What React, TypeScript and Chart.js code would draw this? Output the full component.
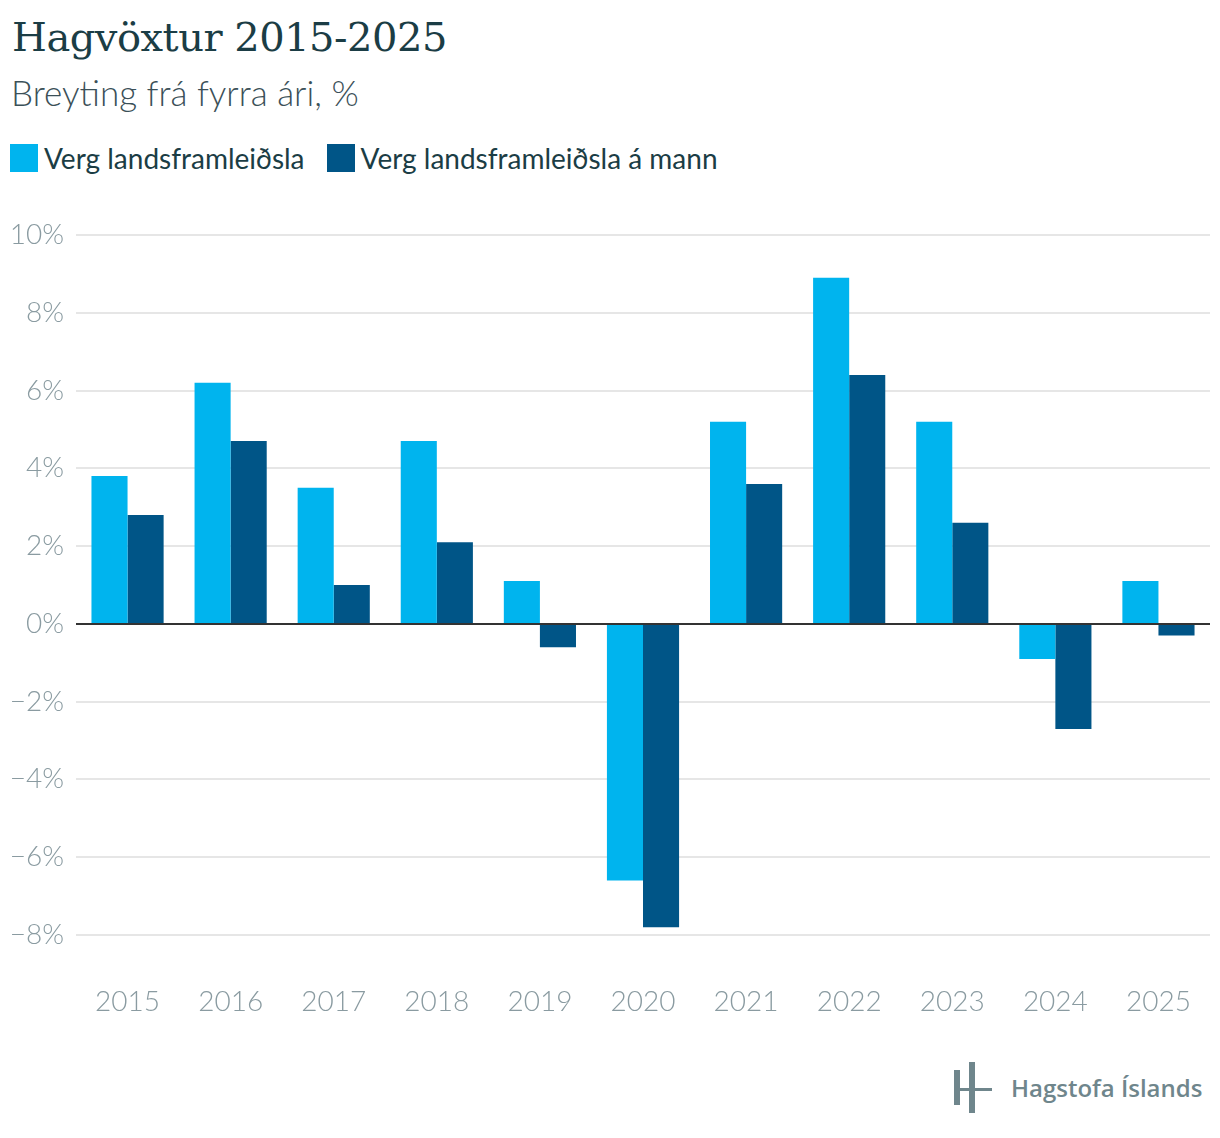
import React, { useEffect, useRef } from "react";
import { Chart, registerables } from "chart.js";

Chart.register(...registerables);

// gögn
const years = ["2015", "2016", "2017", "2018", "2019", "2020", "2021", "2022", "2023", "2024", "2025"];
const vlf = [3.8, 6.2, 3.5, 4.7, 1.1, -6.6, 5.2, 8.9, 5.2, -0.9, 1.1];
const vlfPerMann = [2.8, 4.7, 1.0, 2.1, -0.6, -7.8, 3.6, 6.4, 2.6, -2.7, -0.3];
const seriesNames = ["Verg landsframleiðsla", "Verg landsframleiðsla á mann"];
const yTicks = [-8, -6, -4, -2, 0, 2, 4, 6, 8, 10];

const LIGHT = "#00b4ee";
const DARK = "#005587";
const TEXT = "#1b3d45";
const AXIS = "#8a9ba1";

const zeroLine = {
  id: "zeroLine",
  afterDatasetsDraw(chart: any) {
    const { ctx, chartArea, scales } = chart;
    const y = Math.round(scales.y.getPixelForValue(0));
    ctx.save();
    ctx.strokeStyle = "#333333";
    ctx.lineWidth = 2;
    ctx.beginPath();
    ctx.moveTo(chartArea.left, y);
    ctx.lineTo(chartArea.right, y);
    ctx.stroke();
    ctx.restore();
  },
};

const GrowthChart = () => {
  const chartRef = useRef<HTMLCanvasElement>(null);
  const chartInstance = useRef<Chart | null>(null);

  useEffect(() => {
    if (!chartRef.current) return;
    const ctx = chartRef.current.getContext("2d");
    if (!ctx) return;
    if (chartInstance.current) chartInstance.current.destroy();

    chartInstance.current = new Chart(ctx, {
      type: "bar",
      data: {
        labels: years,
        datasets: [
          { label: seriesNames[0], data: vlf, backgroundColor: LIGHT, categoryPercentage: 0.7, barPercentage: 1 },
          { label: seriesNames[1], data: vlfPerMann, backgroundColor: DARK, categoryPercentage: 0.7, barPercentage: 1 },
        ],
      },
      options: {
        animation: false,
        responsive: false,
        maintainAspectRatio: false,
        layout: { padding: { top: 35, right: 10, left: 0, bottom: 0 } },
        plugins: {
          legend: { display: false },
          tooltip: { enabled: false },
        },
        scales: {
          x: {
            // ósýnileg merki notuð sem bil niður að ártölum
            grid: { display: false, drawTicks: true, tickLength: 50 },
            border: { display: false },
            ticks: {
              color: AXIS,
              padding: 0,
              font: { family: "Lato", size: 28, weight: 300 },
            },
            afterFit: (scale: any) => {
              scale.height = 105;
            },
          },
          y: {
            min: -8,
            max: 10,
            grid: {
              drawTicks: false,
              lineWidth: 2,
              color: (c: any) => (c.tick && c.tick.value === 0 ? "rgba(0,0,0,0)" : "#e6e6e6"),
            },
            border: { display: false },
            afterBuildTicks: (scale: any) => {
              scale.ticks = yTicks.map((v) => ({ value: v }));
            },
            afterFit: (scale: any) => {
              scale.width = 76;
            },
            ticks: {
              color: AXIS,
              padding: 12,
              font: { family: "Lato", size: 28, weight: 300 },
              callback: (v: any) => (Number(v) < 0 ? "\u2212" + Math.abs(Number(v)) : String(v)) + "%",
            },
          },
        },
      },
      plugins: [zeroLine],
    });

    return () => {
      if (chartInstance.current) {
        chartInstance.current.destroy();
        chartInstance.current = null;
      }
    };
  }, []);

  return <canvas ref={chartRef} width={1220} height={840} style={{ position: "absolute", left: 0, top: 200, width: 1220, height: 840 }} />;
};

const LegendItem = ({ color, label }: { color: string; label: string }) => (
  <div style={{ display: "flex", alignItems: "center", marginRight: 22 }}>
    <div style={{ width: 28, height: 28, background: color, marginRight: 6 }} />
    <span>{label}</span>
  </div>
);

const App = () => {
  useEffect(() => {
    document.body.style.margin = "0";
  }, []);

  return (
    <div style={{ position: "relative", width: 1220, height: 1138, background: "#fff", overflow: "hidden" }}>
      <div
        style={{
          position: "absolute",
          left: 12,
          top: 12,
          fontFamily: "'DejaVu Serif', serif",
          fontSize: 40,
          lineHeight: "50px",
          color: TEXT,
          letterSpacing: -0.5,
          whiteSpace: "nowrap",
        }}
      >
        Hagvöxtur 2015-2025
      </div>
      <div
        style={{
          position: "absolute",
          left: 11,
          top: 71,
          fontFamily: "Lato, sans-serif",
          fontWeight: 300,
          fontSize: 35,
          lineHeight: "42px",
          color: "#3b5058",
          whiteSpace: "nowrap",
        }}
      >
        Breyting frá fyrra ári, %
      </div>
      <div
        style={{
          position: "absolute",
          left: 10,
          top: 144,
          display: "flex",
          fontFamily: "Lato, sans-serif",
          fontSize: 28,
          lineHeight: "28px",
          color: TEXT,
          whiteSpace: "nowrap",
        }}
      >
        <LegendItem color={LIGHT} label={seriesNames[0]} />
        <LegendItem color={DARK} label={seriesNames[1]} />
      </div>
      <GrowthChart />
      <div style={{ position: "absolute", left: 954, top: 1062, width: 40, height: 52 }}>
        <div style={{ position: "absolute", left: 0, top: 8, width: 6, height: 35, background: "#6f868c" }} />
        <div style={{ position: "absolute", left: 15, top: 0, width: 6, height: 51, background: "#6f868c" }} />
        <div style={{ position: "absolute", left: 0, top: 26, width: 38, height: 3, background: "#6f868c" }} />
      </div>
      <div
        style={{
          position: "absolute",
          left: 1011,
          top: 1072,
          fontFamily: "'Open Sans', sans-serif",
          fontWeight: 600,
          fontSize: 24,
          lineHeight: "32px",
          color: "#6f868c",
          whiteSpace: "nowrap",
        }}
      >
        Hagstofa Íslands
      </div>
    </div>
  );
};

export default App;
